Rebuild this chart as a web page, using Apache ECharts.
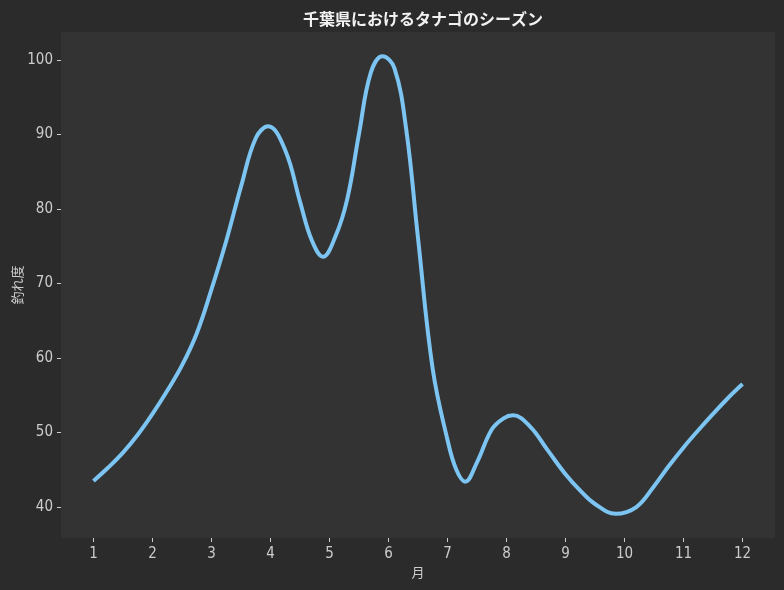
<!DOCTYPE html>
<html>
<head>
<meta charset="utf-8">
<script src="https://cdn.jsdelivr.net/npm/echarts@6/dist/echarts.min.js"></script>
<style>
html,body{margin:0;padding:0;background:#2b2b2b;}
#chart{width:784px;height:590px;}
</style>
</head>
<body>
<div id="chart"></div>
<script>
const titleText = '千葉県におけるタナゴのシーズン';
const xName = '月';
const yName = '釣れ度';
const monthTicks = [1,2,3,4,5,6,7,8,9,10,11,12];
const valueTicks = [40,50,60,70,80,90,100];
const months = [1.00,1.25,1.50,1.75,2.00,2.25,2.50,2.75,3.00,3.25,3.50,3.75,3.96,4.25,4.50,4.70,4.89,5.10,5.30,5.50,5.70,5.90,6.10,6.30,6.50,6.75,7.00,7.15,7.30,7.50,7.75,7.95,8.11,8.40,8.70,9.00,9.25,9.50,9.85,10.20,10.50,10.75,11.00,11.25,11.50,11.75,12.00];
const scores = [43.5,45.3,47.3,49.7,52.5,55.6,59.0,63.3,69.2,75.7,83.0,89.5,91.1,87.9,81.0,75.8,73.6,76.3,81.3,90.1,98.3,100.5,98.9,90.7,76.1,58.5,49.0,45.0,43.4,46.0,50.4,51.9,52.3,50.8,47.6,44.4,42.2,40.4,39.1,40.0,42.8,45.5,48.0,50.3,52.5,54.6,56.5];

const font = '"Noto Sans CJK JP", "Noto Sans", sans-serif';
const tickFont = '"Liberation Sans Narrow", "DejaVu Sans Condensed", "Noto Sans CJK JP", sans-serif';
const chart = echarts.init(document.getElementById('chart'), null, {renderer:'canvas'});
chart.setOption({
  backgroundColor: '#2b2b2b',
  animation: false,
  title: {
    text: titleText,
    left: 418, top: 6, textAlign: 'center',
    textStyle: {color:'#f2f2f2', fontSize:16, fontWeight:'bold', fontFamily:font}
  },
  grid: {left:61, right:9, top:32, bottom:52, show:true, backgroundColor:'#333333', borderWidth:0, containLabel:false, outerBoundsMode:'none'},
  xAxis: {
    type:'value', min:0.45, max:12.55,
    name:xName, nameLocation:'middle', nameGap:28, nameMoveOverlap:false,
    nameTextStyle:{color:'#cccccc', fontSize:13, fontFamily:font},
    axisLine:{show:false},
    splitLine:{show:false},
    axisTick:{show:true, length:4, lineStyle:{color:'#cccccc'}, customValues:monthTicks},
    axisLabel:{color:'#cccccc', fontSize:15, fontFamily:tickFont, margin:9, customValues:monthTicks}
  },
  yAxis: {
    type:'value', min:35.84, max:103.76,
    name:yName, nameLocation:'middle', nameGap:44, nameRotate:90, nameMoveOverlap:false,
    nameTextStyle:{color:'#cccccc', fontSize:13, fontFamily:font, align:'center', verticalAlign:'middle'},
    axisLine:{show:false},
    splitLine:{show:false},
    axisTick:{show:true, length:4, lineStyle:{color:'#cccccc'}, customValues:valueTicks},
    axisLabel:{color:'#cccccc', fontSize:15, fontFamily:tickFont, margin:8, customValues:valueTicks}
  },
  series: [{
    type:'line',
    data: months.map((m,i)=>[m, scores[i]]),
    smooth: 0.4,
    symbol:'none',
    lineStyle:{color:'#7cc4f2', width:4, cap:'butt', join:'round'}
  }]
});
</script>
</body>
</html>
